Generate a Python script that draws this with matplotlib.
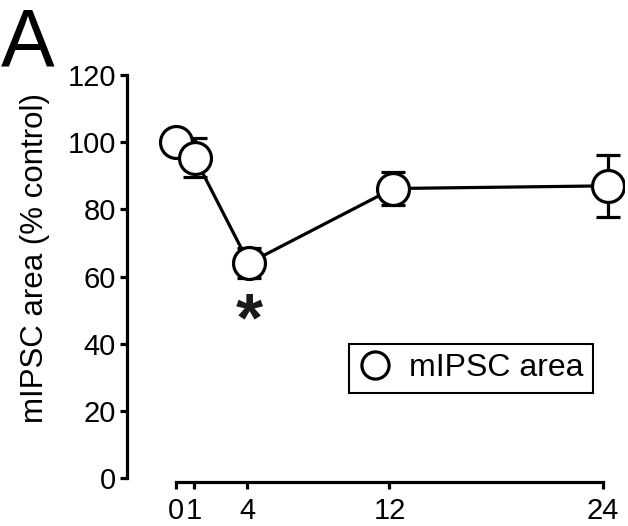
import matplotlib
matplotlib.use("Agg")
from matplotlib import pyplot as plt

plt.rcParams['font.family'] = ['Liberation Sans', 'DejaVu Sans']

# time after treatment (h) and mIPSC area (% control)
hours = [0, 1.07, 4.1, 12.2, 24.3]
area = [100, 95.3, 64.0, 86.2, 87.0]
area_err = [0, 5.8, 4.5, 5.0, 9.2]
xtick_vals = [0, 1, 4, 12, 24]
ytick_vals = [0, 20, 40, 60, 80, 100, 120]

W, H = 628, 526
fig = plt.figure(figsize=(W / 100, H / 100), dpi=100)

# axes box in pixels: left spine at 127, y=0 at 478, y=122 at 68
x0, x1 = 127, 624.3
y_bot, y_top = 478, 68.3
ax = fig.add_axes([x0 / W, (H - y_bot) / H, (x1 - x0) / W, (y_bot - y_top) / H])

ax.set_xlim(-2.75, 25.2)
ax.set_ylim(0, 122)

lw = 2.3
ax.plot(hours, area, '-', color='black', lw=lw, zorder=2)
ax.errorbar(hours, area, yerr=area_err, fmt='none', ecolor='black',
            elinewidth=lw, capsize=8.3, capthick=lw, zorder=2)
ax.plot(hours, area, 'o', ls='none', ms=23, mfc='white', mec='black',
        mew=lw, zorder=3, label='mIPSC area')

ax.text(4.1, 41, '*', fontsize=50, fontweight='bold', ha='center',
        va='baseline', color='#1a1a1a')

for side in ['top', 'right']:
    ax.spines[side].set_visible(False)
ax.spines['left'].set_bounds(0, 120)
ax.spines['bottom'].set_bounds(0, 24)
ax.spines['bottom'].set_position(('outward', 3))
for side in ['left', 'bottom']:
    ax.spines[side].set_linewidth(lw)

ax.set_xticks(xtick_vals)
ax.set_xticklabels(['0', '1', '4', '12', '24'])
ax.set_yticks(ytick_vals)
ax.tick_params(axis='both', direction='out', length=5, width=lw,
               labelsize=21, pad=3, colors='black')
ax.tick_params(axis='x', pad=6)

ax.set_ylabel('mIPSC area (% control)', fontsize=22.5)
ax.yaxis.set_label_coords(-0.155, 0.537)

leg = ax.legend(loc='center', bbox_to_anchor=(471 / W, 1 - 368.5 / H),
                bbox_transform=fig.transFigure, fontsize=23, numpoints=1,
                fancybox=False, framealpha=1, edgecolor='black',
                handlelength=1.0, handletextpad=0.55, borderpad=0.3,
                markerscale=0.85)
leg.get_frame().set_linewidth(1.5)

# panel letter, baseline at ~65 px from the top
fig.text(0.002, 1 - 65 / H, 'A', fontsize=58, ha='left', va='baseline')

fig.savefig('out.png', dpi=100)
